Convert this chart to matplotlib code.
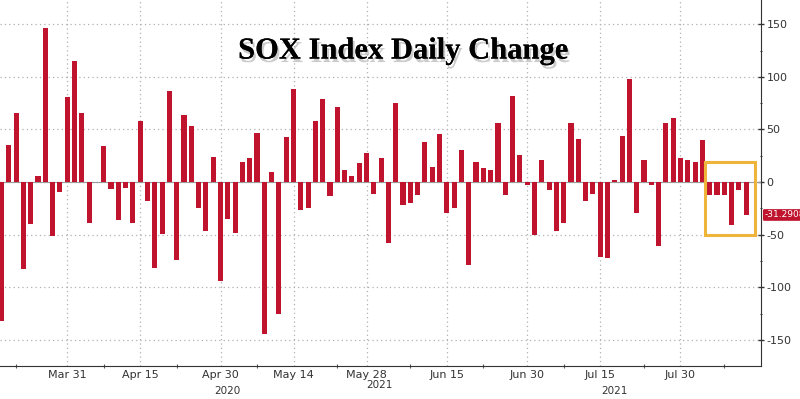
import numpy as np
import matplotlib.pyplot as plt
import matplotlib.patheffects as pe
from matplotlib.patches import Rectangle
from matplotlib.ticker import MultipleLocator

plt.rcParams["axes.unicode_minus"] = False

# daily change of the SOX index, one bar per trading day
changes = [
    -131.7, 35.4, 65.8, -82.9, -40.2, 6.0, 146.5, -51.6, -9.8, 80.7,
    114.9, 65.2, -38.9, 0.3, 34.5, -6.3, -36.1, -5.4, -38.6, 57.6,
    -17.7, -82.0, -49.4, 86.1, -74.1, 63.6, 53.2, -24.4, -46.9, 23.7,
    -93.7, -35.1, -48.7, 18.7, 23.1, 46.2, -144.7, 9.2, -125.0, 43.0,
    88.0, -26.6, -24.7, 58.2, 78.8, -13.3, 70.9, 11.4, 6.0, 18.0,
    27.3, -11.4, 22.5, -57.6, 75.0, -22.2, -20.3, -12.0, 37.7, 14.0,
    45.6, -29.1, -25.0, 30.7, -78.8, 19.3, 13.3, 11.7, 56.3, -12.0,
    81.7, 25.4, -3.2, -50.0, 20.6, -7.6, -46.2, -38.9, 55.7, 40.5,
    -17.7, -11.1, -71.2, -72.2, 1.9, 43.7, 98.1, -29.1, 20.6, -2.8,
    -60.8, 56.3, 60.8, 23.1, 20.6, 18.7, 40.2, -12.0, -12.0, -12.0,
    -40.8, -7.6, -31.2908,
]
tick_pos = [9, 19, 30, 40, 50, 61, 72, 82, 93]
tick_labels = ["Mar 31", "Apr 15", "Apr 30", "May 14", "May 28",
               "Jun 15", "Jun 30", "Jul 15", "Jul 30"]
minor_pos = [2, 14, 24, 35, 46, 56, 66, 77, 88, 99]
year_pos = [31, 51.8, 84]
year_labels = ["2020", "2021", "2021"]
year_low = [True, False, True]
last_value = -31.2908

bar_color = "#c0142e"
fig = plt.figure(figsize=(8, 3.99), dpi=100)
ax = fig.add_axes([0.0, 0.0835, 0.951, 0.9165])

x = np.arange(len(changes))
ax.bar(x, changes, width=0.7, color=bar_color, zorder=3)
ax.axhline(0, color="#9a9a9a", lw=0.8, zorder=2)

ax.set_xlim(-0.2, 104.0)
ax.set_ylim(-174.5, 173)

ax.yaxis.tick_right()
ax.yaxis.set_major_locator(MultipleLocator(50))
ax.yaxis.set_minor_locator(MultipleLocator(25))
ax.tick_params(axis="y", which="major", length=4, width=1, colors="#333333",
               labelsize=8, direction="inout", pad=2)
ax.tick_params(axis="y", which="minor", length=2, width=0.8, colors="#333333",
               direction="inout")
ax.set_xticks(tick_pos)
ax.set_xticklabels(tick_labels)
ax.set_xticks(minor_pos, minor=True)
ax.tick_params(axis="x", which="major", length=0, labelsize=8,
               colors="#333333", pad=3)
ax.tick_params(axis="x", which="minor", length=3, width=0.8,
               colors="#555555", direction="inout")

ax.grid(True, which="major", axis="both", color="#b0b0b0",
        linestyle=(0, (1, 2.5)), lw=0.9, zorder=0)

for sp in ["top", "left"]:
    ax.spines[sp].set_visible(False)
ax.spines["right"].set_color("#333333")
ax.spines["bottom"].set_color("#333333")

for xp, txt, low in zip(year_pos, year_labels, year_low):
    ax.annotate(txt, xy=(xp, 0), xycoords=("data", "axes fraction"),
                xytext=(0, -18.5 if low else -14), textcoords="offset points",
                ha="center", va="center", fontsize=7.5, color="#333333",
                annotation_clip=False)

# highlight box around the last week
ax.add_patch(Rectangle((96.4, -50.3), 6.8, 69.0, fill=False,
                       edgecolor="#efb43a", lw=2.2, zorder=4))

# last value tag on the right axis
ax.annotate(f"{last_value:.4f}", xy=(1.0, last_value),
            xycoords=("axes fraction", "data"), xytext=(2.5, 0),
            textcoords="offset points", ha="left", va="center",
            fontsize=6.5, color="white", annotation_clip=False,
            bbox=dict(boxstyle="round,pad=0.15", fc=bar_color, ec="none"))

fig.text(0.504, 0.872, "SOX Index Daily Change", ha="center", va="center",
         fontsize=22, fontweight="bold", family="Liberation Serif",
         color="black",
         path_effects=[pe.withSimplePatchShadow(offset=(1.5, -2.5),
                                                shadow_rgbFace="#999999",
                                                alpha=0.5),
                       pe.Normal()])

fig.savefig("out.png", dpi=100)
